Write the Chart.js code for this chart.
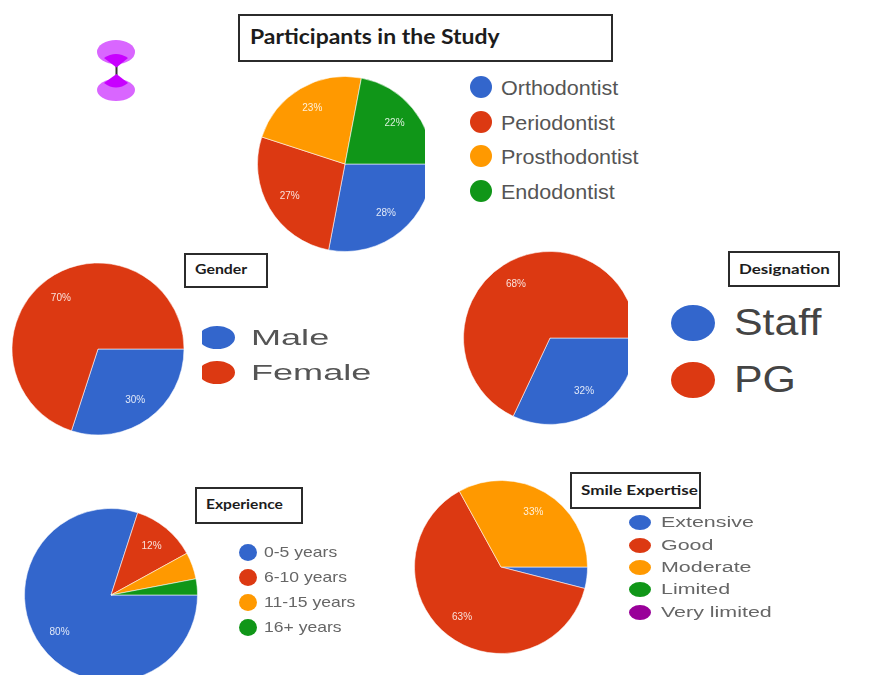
<!DOCTYPE html>
<html>
<head>
<meta charset="utf-8">
<title>Participants in the Study</title>
<script src="https://cdn.jsdelivr.net/npm/chart.js@4"></script>
<style>
  html, body { margin: 0; padding: 0; background: #fff; }
  #page { position: relative; width: 871px; height: 675px; overflow: hidden; background: #fff; }
  .pie { position: absolute; overflow: hidden; }
  .pie canvas { display: block; }
  .box { position: absolute; box-sizing: border-box; border: 2px solid #2b2b2b; background: #fff;
         font-family: Lato, sans-serif; font-weight: 700; color: #1c1c1c; white-space: nowrap; }
  .box span { position: absolute; transform-origin: 0 50%; line-height: 1; }
  .key { position: absolute; border-radius: 50%; }
  .keyclip { position: absolute; overflow: hidden; }
  .keyclip .key { position: absolute; }
  .lbl { position: absolute; font-family: "Liberation Sans", Arial, sans-serif; white-space: nowrap;
         transform-origin: 0 50%; line-height: 1; }
</style>
</head>
<body>
<div id="page">
  <svg style="position:absolute;left:90px;top:34px" width="52" height="76" viewBox="0 0 52 76">
    <!-- hourglass ornament -->
    <rect x="25.5" y="32" width="2" height="9" fill="#333"/>
    <ellipse cx="26" cy="18" rx="19" ry="12" fill="#d966ff"/>
    <ellipse cx="26" cy="56" rx="19" ry="11" fill="#d966ff"/>
    <path d="M14 24 Q26 16 38 24 L26.5 33.5 Z" fill="#c800ff"/>
    <path d="M14 49 Q26 58 38 49 L26.5 40 Z" fill="#c800ff"/>
  </svg>
</div>
<script>
// Category names and percentage shares for each question of the survey
const specialityLabels = ['Orthodontist', 'Periodontist', 'Prosthodontist', 'Endodontist'];
const specialityValues = [28, 27, 23, 22];

const genderLabels = ['Male', 'Female'];
const genderValues = [30, 70];

const designationLabels = ['Staff', 'PG'];
const designationValues = [32, 68];

const experienceLabels = ['0-5 years', '6-10 years', '11-15 years', '16+ years'];
const experienceValues = [80, 12, 5, 3];

const expertiseLabels = ['Extensive', 'Good', 'Moderate', 'Limited', 'Very limited'];
const expertiseValues = [4, 63, 33, 0, 0];

const sliceColors = ['#3366cc', '#dc3912', '#ff9900', '#109618', '#990099'];

// Percentages are printed inside any slice large enough to hold them
const sliceLabelPlugin = {
  id: 'sliceLabels',
  afterDatasetsDraw(chart) {
    const { ctx } = chart;
    const values = chart.data.datasets[0].data;
    ctx.save();
    ctx.fillStyle = 'rgba(255,255,255,0.85)';
    ctx.font = '10px "Liberation Sans", Arial, sans-serif';
    ctx.textAlign = 'center';
    ctx.textBaseline = 'middle';
    chart.getDatasetMeta(0).data.forEach((arc, i) => {
      if (values[i] < 10) return;
      const mid = (arc.startAngle + arc.endAngle) / 2;
      const dist = arc.outerRadius * 0.735;
      ctx.fillText(values[i] + '%', arc.x + Math.cos(mid) * dist, arc.y + Math.sin(mid) * dist);
    });
    ctx.restore();
  }
};

const page = document.getElementById('page');

function addPie(labels, values, cx, cy, radius, clipRight) {
  const size = 186;
  const holder = document.createElement('div');
  holder.className = 'pie';
  holder.style.left = (cx - size / 2) + 'px';
  holder.style.top = (cy - size / 2) + 'px';
  holder.style.width = (clipRight ? clipRight - (cx - size / 2) : size) + 'px';
  holder.style.height = size + 'px';
  const canvas = document.createElement('canvas');
  canvas.width = size;
  canvas.height = size;
  holder.appendChild(canvas);
  page.appendChild(holder);
  new Chart(canvas, {
    type: 'pie',
    data: {
      labels,
      datasets: [{
        data: values,
        backgroundColor: sliceColors.slice(0, values.length),
        borderColor: 'rgba(255,255,255,0.55)',
        borderWidth: 1,
        radius
      }]
    },
    options: {
      responsive: false,
      animation: false,
      rotation: 90,
      layout: { padding: 0 },
      plugins: { legend: { display: false }, tooltip: { enabled: false } }
    },
    plugins: [sliceLabelPlugin]
  });
}

// Caption box; the text is widened to the box's proportions
function addBox(text, left, top, right, bottom, textLeft, textY, fontSize, stretch) {
  const box = document.createElement('div');
  box.className = 'box';
  box.style.left = left + 'px';
  box.style.top = top + 'px';
  box.style.width = (right - left) + 'px';
  box.style.height = (bottom - top) + 'px';
  box.style.fontSize = fontSize + 'px';
  const span = document.createElement('span');
  span.textContent = text;
  span.style.left = (textLeft - left - 2) + 'px';
  span.style.top = (textY - top - 2 - fontSize / 2) + 'px';
  span.style.transform = 'scaleX(' + stretch + ')';
  box.appendChild(span);
  page.appendChild(box);
}

// Legend column: one coloured ellipse and one stretched label per category
function addLegend(labels, ys, o) {
  labels.forEach((text, i) => {
    const key = document.createElement('div');
    key.className = 'key';
    key.style.background = sliceColors[i];
    key.style.width = o.rx * 2 + 'px';
    key.style.height = o.ry * 2 + 'px';
    if (o.clipLeft) {
      const clip = document.createElement('div');
      clip.className = 'keyclip';
      clip.style.left = o.clipLeft + 'px';
      clip.style.top = (ys[i] - o.ry) + 'px';
      clip.style.width = (o.keyX + o.rx - o.clipLeft) + 'px';
      clip.style.height = o.ry * 2 + 'px';
      key.style.left = (o.keyX - o.rx - o.clipLeft) + 'px';
      key.style.top = '0px';
      clip.appendChild(key);
      page.appendChild(clip);
    } else {
      key.style.left = (o.keyX - o.rx) + 'px';
      key.style.top = (ys[i] - o.ry) + 'px';
      page.appendChild(key);
    }
    const label = document.createElement('div');
    label.className = 'lbl';
    label.textContent = text;
    label.style.left = o.textX + 'px';
    label.style.top = (ys[i] - o.font / 2 + (o.textDy || 0)) + 'px';
    label.style.fontSize = o.font + 'px';
    label.style.color = o.color;
    label.style.transform = 'scaleX(' + o.stretch + ')';
    page.appendChild(label);
  });
}

addPie(specialityLabels, specialityValues, 344.5, 163.5, 87.5, 425);
addPie(genderLabels, genderValues, 97.5, 348.5, 86);
addPie(designationLabels, designationValues, 549.5, 337.5, 86.5, 628);
addPie(experienceLabels, experienceValues, 110.5, 594.5, 86.5);
addPie(expertiseLabels, expertiseValues, 500.5, 567, 86.5);

addBox('Participants in the Study', 238, 14, 613, 62, 250, 36, 20, 1.147);
addBox('Gender', 184, 253, 268, 288, 195, 269.5, 13, 1.22);
addBox('Designation', 728, 251, 840, 287, 739, 268.5, 14, 1.21);
addBox('Experience', 195, 487, 303, 524, 206, 504, 13, 1.2);
addBox('Smile Expertise', 570, 472, 701, 509, 581, 490, 14, 1.22);

addLegend(specialityLabels, [87, 122, 156, 191],
  { keyX: 481, rx: 11, ry: 11, textX: 501, font: 21, stretch: 1.025, color: '#555' });
addLegend(genderLabels, [337, 372],
  { keyX: 217, rx: 18, ry: 11.5, clipLeft: 202, textX: 251, font: 22, stretch: 1.64, color: '#555', textDy: 0.5 });
addLegend(designationLabels, [323, 380],
  { keyX: 693, rx: 22, ry: 18, textX: 734, font: 36, stretch: 1.19, color: '#444' });
addLegend(experienceLabels, [552, 577, 602, 627],
  { keyX: 248, rx: 9, ry: 8.5, textX: 264, font: 15, stretch: 1.17, color: '#666', textDy: -1 });
addLegend(expertiseLabels, [522, 545, 567, 589, 612],
  { keyX: 640, rx: 11, ry: 7.5, textX: 661, font: 14, stretch: 1.53, color: '#666' });
</script>
</body>
</html>
